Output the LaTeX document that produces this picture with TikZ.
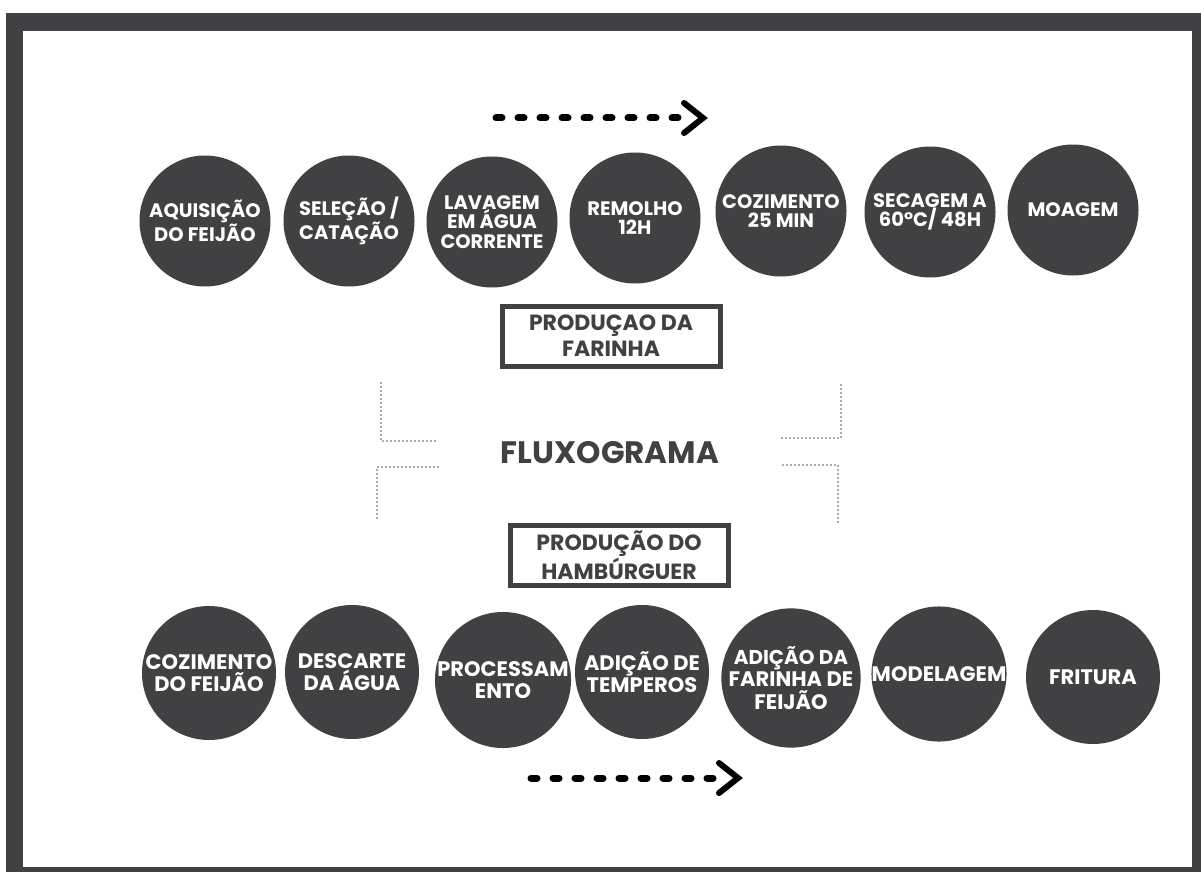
\documentclass[tikz,border=0pt]{standalone}
\usepackage{fontspec}
\setmainfont{Poppins}
\usepackage{xcolor}
\usepackage{tikz}
\usetikzlibrary{calc,positioning}
\definecolor{ink}{HTML}{414042}
\definecolor{dotgray}{HTML}{5A5A5C}
\tikzset{
  stepcirc/.style={circle, fill=ink, minimum size=131pt, inner sep=0pt, text=white, align=center, font=\bfseries\fontsize{19.5}{19.5}\selectfont},
  stepcircb/.style={stepcirc, minimum size=134pt, font=\bfseries\fontsize{21}{22.5}\selectfont},
  titlebox/.style={draw=ink, line width=5pt, minimum width=218pt, minimum height=60pt, inner sep=0pt, text=ink, align=center, font=\bfseries\fontsize{22}{26}\selectfont},
  flow/.style={draw=black, line width=7pt, line cap=round, dash pattern=on 6pt off 16pt},
  chev/.style={draw=black, line width=6pt, line cap=round, line join=miter},
  dots/.style={draw=dotgray, line width=1.8pt, line cap=round, dash pattern=on 0pt off 4pt},
}
\begin{document}
\begin{tikzpicture}[x=1pt,y=-1pt]
\useasboundingbox (0,0) rectangle (1201,872);
\fill[white] (0,0) rectangle (1201,872);
% frame
\fill[ink] (6,13) rectangle (1201,872);
\fill[white] (23,31) rectangle (1192,867);

% producao da farinha
\foreach \n/\x/\y/\t in {f1/205/221/{AQUISIÇÃO\\DO FEIJÃO},
  f2/349/221/{SELEÇÃO /\\CATAÇÃO},
  f3/492/222/{LAVAGEM\\EM ÁGUA\\CORRENTE},
  f4/635/218/{REMOLHO\\12H},
  f5/781/211/{COZIMENTO\\25 MIN},
  f6/930/212/{SECAGEM A\\60°C/ 48H},
  f7/1073/210/{MOAGEM}}{
  \node[stepcirc] (\n) at (\x,\y) {\t};
}

% producao do hamburguer
\foreach \n/\x/\y/\t in {h1/209/673/{COZIMENTO\\DO FEIJÃO},
  h2/352/672/{DESCARTE\\DA ÁGUA},
  h3/503/680/{PROCESSAM\\ENTO},
  h4/642/672/{ADIÇÃO DE\\TEMPEROS},
  h5/791/678/{\fontsize{20}{19}\selectfont ADIÇÃO DA\\FARINHA DE\\FEIJÃO},
  h6/939/674/{MODELAGEM},
  h7/1093/677/{FRITURA}}{
  \node[stepcircb] (\n) at (\x,\y) {\t};
}

\node[titlebox] (farinha) at (611,336) {PRODUÇAO DA\\FARINHA};
\node[titlebox] (hamb) at (619,555) {PRODUÇÃO DO\\HAMBÚRGUER};
\node[text=ink, font=\bfseries\fontsize{31}{32}\selectfont] (titulo) at (610,453) {FLUXOGRAMA};

% brackets
\draw[dots] (381,383) -- (381,441) -- (437,441);
\draw[dots] (438,467) -- (377,467) -- (377,520);
\draw[dots] (841,385) -- (841,438) -- (782,438);
\draw[dots] (783,465) -- (838,465) -- (838,522);

% arrows
\coordinate (a1s) at (496,118);
\coordinate (a1e) at (678,118);
\coordinate (a1t) at (703,118);
\draw[flow] (a1s) -- (a1e);
\draw[chev] ([shift={(-19,-15)}]a1t) -- (a1t) -- ([shift={(-19,15)}]a1t);

\coordinate (a2s) at (531,778);
\coordinate (a2e) at (713,778);
\coordinate (a2t) at (738,778);
\draw[flow] (a2s) -- (a2e);
\draw[chev] ([shift={(-19,-15)}]a2t) -- (a2t) -- ([shift={(-19,15)}]a2t);
\end{tikzpicture}
\end{document}
